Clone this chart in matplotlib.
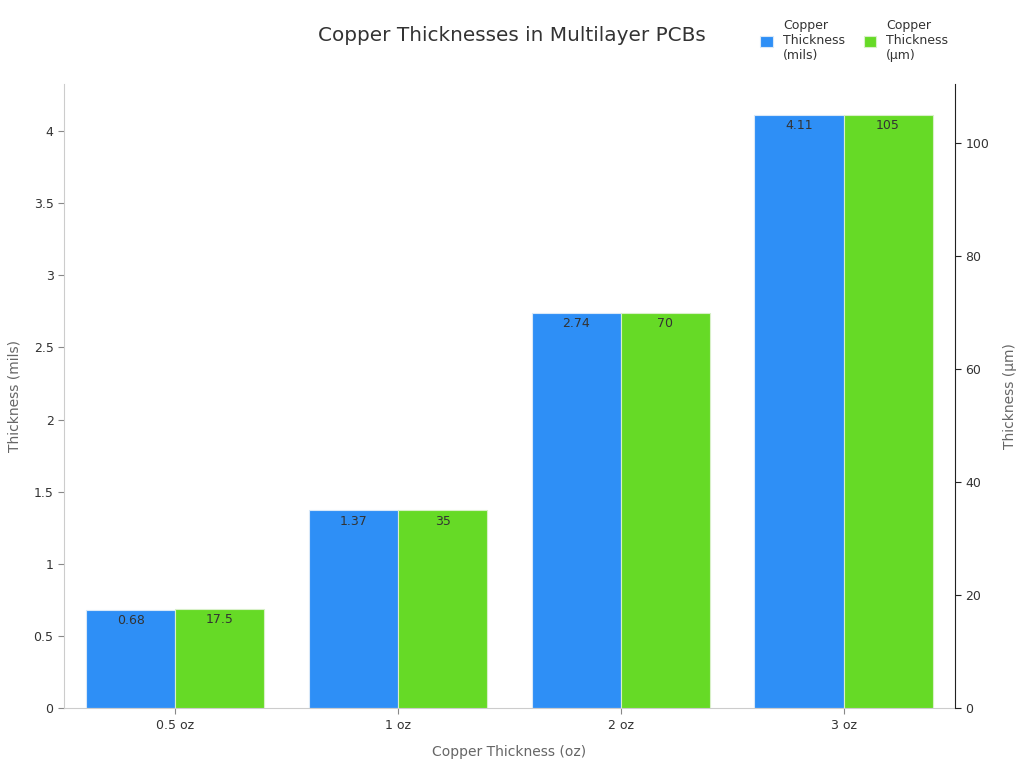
import matplotlib
matplotlib.use("Agg")
import matplotlib.pyplot as plt
import numpy as np

categories = ["0.5 oz", "1 oz", "2 oz", "3 oz"]
mils = [0.68, 1.37, 2.74, 4.11]
um = [17.5, 35, 70, 105]
mils_labels = ["0.68", "1.37", "2.74", "4.11"]
um_labels = ["17.5", "35", "70", "105"]

blue = "#2E8FF6"
green = "#66DA26"

fig = plt.figure(figsize=(10.24, 7.68), dpi=100)
ax = fig.add_axes([0.0625, 0.078, 0.870, 0.8125])
ax2 = ax.twinx()

x = np.arange(len(categories))
w = 0.4
b1 = ax.bar(x - w/2, mils, w, color=blue, edgecolor="#D8E8F8", linewidth=0.8, label="Copper\nThickness\n(mils)")
b2 = ax2.bar(x + w/2, um, w, color=green, edgecolor="#D8F0C8", linewidth=0.8, label="Copper\nThickness\n(μm)")

ax.set_xlim(-0.5, 3.5)
ax.set_ylim(0, 4.326)
ax2.set_ylim(0, 110.45)
ax.set_yticks([0, 0.5, 1, 1.5, 2, 2.5, 3, 3.5, 4])
ax.set_yticklabels(["0", "0.5", "1", "1.5", "2", "2.5", "3", "3.5", "4"])
ax2.set_yticks([0, 20, 40, 60, 80, 100])
ax.set_xticks(x)
ax.set_xticklabels(categories)

for a in (ax, ax2):
    a.spines["top"].set_visible(False)
ax.spines["left"].set_color("#CCCCCC")
ax.spines["bottom"].set_color("#CCCCCC")
ax.spines["right"].set_visible(False)
ax2.spines["left"].set_visible(False)
ax2.spines["bottom"].set_visible(False)
ax2.spines["right"].set_color("#222222")

ax.tick_params(axis="y", colors="#888888", labelcolor="#333333", labelsize=9, length=4)
ax.tick_params(axis="x", colors="#888888", labelcolor="#333333", labelsize=9, length=4)
ax2.tick_params(axis="y", colors="#222222", labelcolor="#333333", labelsize=9, length=4)

ax.set_xlabel("Copper Thickness (oz)", fontsize=10, color="#666666", labelpad=10)
ax.set_ylabel("Thickness (mils)", fontsize=10, color="#666666", labelpad=9)
ax2.set_ylabel("Thickness (μm)", fontsize=10, color="#666666", labelpad=10)

for rect, lab in zip(b1, mils_labels):
    ax.annotate(lab, (rect.get_x() + rect.get_width()/2, rect.get_height()),
                xytext=(0, -3), textcoords="offset points", ha="center", va="top",
                fontsize=9, color="#333333")
for rect, lab in zip(b2, um_labels):
    ax2.annotate(lab, (rect.get_x() + rect.get_width()/2, rect.get_height()),
                 xytext=(0, -3), textcoords="offset points", ha="center", va="top",
                 fontsize=9, color="#333333")

fig.text(0.5, 0.954, "Copper Thicknesses in Multilayer PCBs", ha="center", va="center",
         fontsize=14.4, color="#333333")

h1, l1 = ax.get_legend_handles_labels()
h2, l2 = ax2.get_legend_handles_labels()
fig.legend(h1 + h2, l1 + l2, loc="upper right", bbox_to_anchor=(0.937, 0.99), ncol=2,
           frameon=False, fontsize=9, handlelength=1.0, handleheight=1.0,
           columnspacing=1.5, labelcolor="#333333", labelspacing=0.3)

fig.savefig("out.png", dpi=100)
